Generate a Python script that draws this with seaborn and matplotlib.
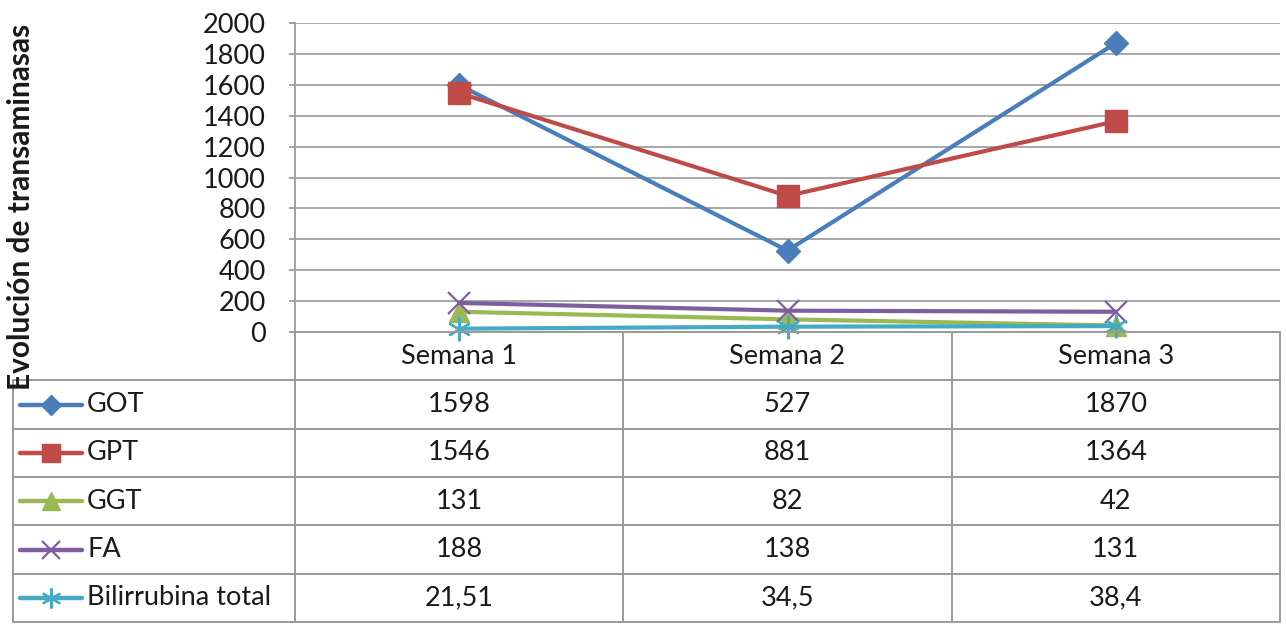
import matplotlib
matplotlib.use("Agg")
import matplotlib.pyplot as plt
import seaborn as sns
import pandas as pd

# ---- data ----
semanas = ["Semana 1", "Semana 2", "Semana 3"]
got = [1598, 527, 1870]
gpt = [1546, 881, 1364]
ggt = [131, 82, 42]
fa = [188, 138, 131]
bilirrubina = [21.51, 34.5, 38.4]
series_names = ["GOT", "GPT", "GGT", "FA", "Bilirrubina total"]
y_ticks = list(range(0, 2001, 200))
y_label = "Evolución de transaminasas"

series_values = [got, gpt, ggt, fa, bilirrubina]
colors = ["#4A7EBB", "#BE4B48", "#98B954", "#7D5FA0", "#46AAC5"]
markers = ["D", "s", "^", "x", (6, 2, 0)]
msizes = [12, 16, 15, 16, 17]
mews = [1, 1, 1, 1.6, 1.6]

sns.set_theme(style="white")
plt.rcParams["font.family"] = ["Lato", "DejaVu Sans"]

W, H = 1286, 624
fig = plt.figure(figsize=(W / 100, H / 100), dpi=100)

# layout in pixels
plot_l, plot_r, plot_t, plot_b = 295, 1280, 23, 332
tab_l, tab_b = 13, 622
unit = (plot_r - plot_l) / len(semanas)
fs = 19.5

ax = fig.add_axes([plot_l / W, 1 - plot_b / H, (plot_r - plot_l) / W, (plot_b - plot_t) / H])

df = pd.DataFrame({
    "Semana": semanas * len(series_names),
    "Valor": [v for vals in series_values for v in vals],
    "Serie": [n for n in series_names for _ in semanas],
})

for i, name in enumerate(series_names):
    sub = df[df["Serie"] == name]
    sns.lineplot(data=sub, x="Semana", y="Valor", ax=ax, color=colors[i], lw=3.0,
                 marker=markers[i], ms=msizes[i], mew=mews[i], mec=colors[i],
                 sort=False, legend=False, zorder=3 + i, clip_on=False)

ax.set_xlim(-0.5, len(semanas) - 0.5)
ax.set_ylim(0, 2000)
ax.set_yticks(y_ticks)
ax.set_yticklabels([str(t) for t in y_ticks])
ax.set_xticks([])
ax.set_xlabel("")
ax.set_ylabel("")
ax.grid(axis="y", color="#A8A8A8", lw=1.4)
ax.grid(axis="x", visible=False)
for s in ["top", "right", "bottom"]:
    ax.spines[s].set_visible(False)
ax.spines["left"].set_color("#A0A0A0")
ax.spines["left"].set_linewidth(1.4)
ax.tick_params(axis="y", which="major", left=True, length=4, width=1.4, color="#A0A0A0",
               labelsize=fs, labelcolor="#1a1a1a", pad=17)

fig.text(21 / W, 1 - 207 / H, y_label, rotation=90, ha="center", va="center",
         fontsize=21.5, fontweight="bold", color="#1a1a1a")

# ---- data table below the plot ----
tax = fig.add_axes([tab_l / W, 1 - tab_b / H, (plot_r - tab_l) / W, (tab_b - plot_b) / H])
xmin = -0.5 - (plot_l - tab_l) / unit
xmax = len(semanas) - 0.5
nrows = len(series_names) + 1
tax.set_xlim(xmin, xmax)
tax.set_ylim(nrows, 0)
tax.axis("off")

def px(p):
    return xmin + (p - tab_l) / unit

gc = "#9A9A9A"
glw = 1.4
# horizontal rules
tax.plot([-0.5, xmax], [0, 0], color=gc, lw=glw, clip_on=False)
for r in range(1, nrows + 1):
    tax.plot([xmin, xmax], [r, r], color=gc, lw=glw, clip_on=False)
# vertical rules
tax.plot([xmin, xmin], [1, nrows], color=gc, lw=glw, clip_on=False)
for c in range(len(semanas) + 1):
    tax.plot([c - 0.5, c - 0.5], [0, nrows], color=gc, lw=glw, clip_on=False)

txt_kw = dict(fontsize=fs, color="#1a1a1a", va="center")
for c, s in enumerate(semanas):
    tax.text(c, 0.5, s, ha="center", **txt_kw)

def fmt(v):
    return f"{v:g}".replace(".", ",")

for r, (name, vals) in enumerate(zip(series_names, series_values), start=1):
    yc = r + 0.5
    for c, v in enumerate(vals):
        tax.text(c, yc, fmt(v), ha="center", **txt_kw)
    tax.plot([px(20), px(82)], [yc, yc], color=colors[r - 1], lw=3.2, clip_on=False)
    tax.plot([px(51)], [yc], color=colors[r - 1], marker=markers[r - 1],
             ms=msizes[r - 1] * 0.85, mew=mews[r - 1], mec=colors[r - 1], clip_on=False)
    tax.text(px(87), yc, name, ha="left", **txt_kw)

fig.savefig("out.png", dpi=100)
